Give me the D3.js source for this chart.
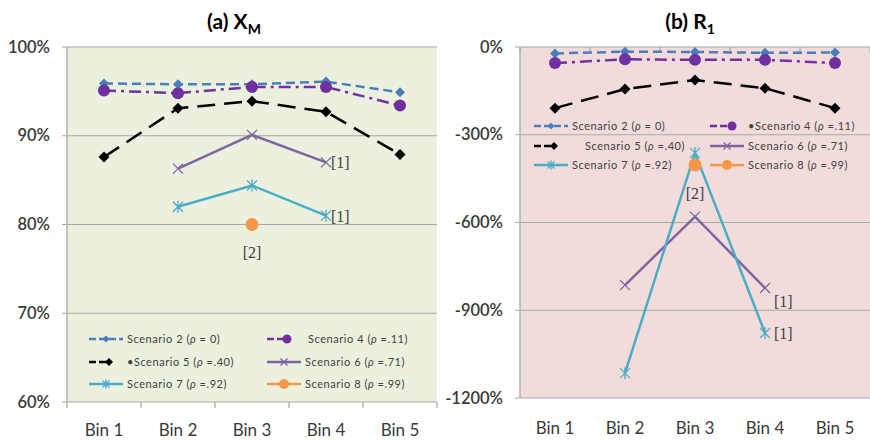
<!DOCTYPE html>
<html>
<head>
<meta charset="utf-8">
<script src="https://cdn.jsdelivr.net/npm/d3@7"></script>
<style>
  body { margin: 0; background: #fff; }
  text { font-family: Lato, "Open Sans", sans-serif; }
</style>
</head>
<body>
<div id="chart"></div>
<script>
var width = 870,
    height = 441;

// categories
var bins = ["Bin 1", "Bin 2", "Bin 3", "Bin 4", "Bin 5"];

// (a) X_M values, percent (null = no point)
var xmS2 = [95.9, 95.8, 95.8, 96.1, 94.9];
var xmS4 = [95.1, 94.8, 95.5, 95.5, 93.4];
var xmS5 = [87.6, 93.1, 93.9, 92.7, 87.9];
var xmS6 = [null, 86.3, 90.1, 87.0, null];
var xmS7 = [null, 82.0, 84.4, 81.0, null];
var xmS8 = [null, null, 80.0, null, null];
var xmTicks = [60, 70, 80, 90, 100];

// (b) R_1 values, percent
var r1S2 = [-22, -16, -17, -20, -19];
var r1S4 = [-55, -42, -44, -44, -55];
var r1S5 = [-209, -144, -113, -141, -209];
var r1S6 = [null, -814, -580, -824, null];
var r1S7 = [null, -1115, -362, -978, null];
var r1S8 = [null, null, -403, null, null];
var r1Ticks = [-1200, -900, -600, -300, 0];

// series styling
var styles = [
    {name: "Scenario 2 ", rho: " = 0)", color: "#4a7ebb", dash: "9,5", marker: "diamond", ms: 5},
    {name: "Scenario 4 ", rho: " =.11)", color: "#7030a0", dash: "12,5,3,5", marker: "circle", ms: 6},
    {name: "Scenario 5 ", rho: " =.40)", color: "#000000", dash: "18,9", marker: "diamond", ms: 5.5},
    {name: "Scenario 6 ", rho: " =.71)", color: "#8064a2", dash: null, marker: "x", ms: 5},
    {name: "Scenario 7 ", rho: " =.92)", color: "#4bacc6", dash: null, marker: "star", ms: 5},
    {name: "Scenario 8 ", rho: " =.99)", color: "#f79646", dash: null, marker: "circle", ms: 6.5}
];

var svg = d3.select("#chart").append("svg")
    .attr("width", width)
    .attr("height", height);

function drawMarker(g, type, x, y, s, color) {
    if (type == "diamond") {
        g.append("path")
            .attr("d", "M" + x + "," + (y - s) + "L" + (x + s) + "," + y + "L" + x + "," + (y + s) + "L" + (x - s) + "," + y + "Z")
            .attr("fill", color);
    } else if (type == "circle") {
        g.append("circle").attr("cx", x).attr("cy", y).attr("r", s).attr("fill", color);
    } else {
        var p = "M" + (x - s) + "," + (y - s) + "L" + (x + s) + "," + (y + s) +
                "M" + (x - s) + "," + (y + s) + "L" + (x + s) + "," + (y - s);
        if (type == "star") p += "M" + x + "," + (y - s - 1) + "L" + x + "," + (y + s + 1);
        g.append("path").attr("d", p).attr("fill", "none")
            .attr("stroke", color).attr("stroke-width", 1.3);
    }
}

function drawPanel(cfg) {
    var x = d3.scaleBand().domain(bins).range([cfg.left, cfg.right]);
    var y = d3.scaleLinear().domain(cfg.domain).range([cfg.bottom, cfg.top]);

    var g = svg.append("g");

    g.append("rect")
        .attr("x", cfg.left).attr("y", cfg.top)
        .attr("width", cfg.right - cfg.left).attr("height", cfg.bottom - cfg.top)
        .attr("fill", cfg.bg);

    // gridlines
    g.selectAll(".grid")
        .data(cfg.ticks)
        .enter().append("line")
        .attr("x1", cfg.left - 5).attr("x2", cfg.right)
        .attr("y1", function(d) { return y(d); })
        .attr("y2", function(d) { return y(d); })
        .style("stroke", "#a6a6a6")
        .style("stroke-width", 1.2);

    // y axis line
    g.append("line")
        .attr("x1", cfg.left).attr("x2", cfg.left)
        .attr("y1", cfg.top).attr("y2", cfg.bottom)
        .style("stroke", "#b0b0b0").style("stroke-width", 1.5);

    // y tick labels
    g.selectAll(".ylab")
        .data(cfg.ticks)
        .enter().append("text")
        .attr("x", cfg.left - 17)
        .attr("y", function(d) { return y(d) + 5.5; })
        .attr("text-anchor", "end")
        .attr("fill", "#3a3a3a")
        .style("font-size", "16.5px")
        .style("font-weight", "600")
        .text(function(d) { return d + "%"; });

    // category ticks along the category axis
    var boundaries = bins.map(function(b) { return x(b); }).concat([cfg.right]);
    g.selectAll(".xtick")
        .data(boundaries)
        .enter().append("line")
        .attr("x1", function(d) { return d; })
        .attr("x2", function(d) { return d; })
        .attr("y1", y(cfg.axisAt))
        .attr("y2", y(cfg.axisAt) + cfg.tickDir * 6)
        .style("stroke", "#a6a6a6").style("stroke-width", 1.2);

    g.selectAll(".xlab")
        .data(bins)
        .enter().append("text")
        .attr("x", function(d) { return x(d) + x.bandwidth() / 2; })
        .attr("y", cfg.labelY)
        .attr("text-anchor", "middle")
        .attr("fill", "#3a3a3a")
        .style("font-size", "17px")
        .text(function(d) { return d; });

    // title
    var t = g.append("text")
        .attr("x", cfg.titleX).attr("y", 29)
        .attr("text-anchor", "middle")
        .attr("fill", "#000")
        .style("font-size", "21px")
        .style("font-weight", "bold");
    t.append("tspan").text(cfg.title);
    t.append("tspan").attr("dy", 5).style("font-size", "14px").text(cfg.sub);

    // legend
    var leg = g.append("g");
    styles.forEach(function(s, i) {
        var col = i % 2, row = Math.floor(i / 2);
        var lx = cfg.legX[col], ly = cfg.legY[row];
        var len = cfg.legLen[i] || 34;
        leg.append("line")
            .attr("x1", lx).attr("x2", lx + len)
            .attr("y1", ly).attr("y2", ly)
            .style("stroke", s.color).style("stroke-width", 2.5)
            .style("stroke-dasharray", s.dash ? "7,3" : null);
        drawMarker(leg, s.marker, lx + (len > 30 ? 17 : len), ly, s.ms - 1.5, s.color);
        var lt = leg.append("text")
            .attr("x", lx + 38 + (cfg.legPad[i] || 0)).attr("y", ly + 4)
            .attr("fill", "#404040")
            .style("font-size", "11px")
            .style("letter-spacing", "0.55px");
        lt.append("tspan").text((cfg.legBullet[i] ? "\u2022" : "") + s.name + "(");
        lt.append("tspan").style("font-style", "italic").text("\u03c1");
        lt.append("tspan").text(s.rho);
    });

    // series
    var line = d3.line()
        .defined(function(d) { return d != null; })
        .x(function(d, i) { return x(bins[i]) + x.bandwidth() / 2; })
        .y(function(d) { return y(d); });

    cfg.series.forEach(function(vals, k) {
        var s = styles[k];
        g.append("path")
            .datum(vals)
            .attr("d", line)
            .attr("fill", "none")
            .style("stroke", s.color)
            .style("stroke-width", 2.5)
            .style("stroke-dasharray", s.dash);
        vals.forEach(function(v, i) {
            if (v == null) return;
            drawMarker(g, s.marker, x(bins[i]) + x.bandwidth() / 2, y(v), s.ms, s.color);
        });
    });

    // notes
    cfg.notes.forEach(function(n) {
        g.append("text")
            .attr("x", x(bins[n.bin]) + x.bandwidth() / 2 + n.dx)
            .attr("y", y(cfg.series[n.s][n.bin]) + n.dy)
            .attr("text-anchor", n.anchor)
            .attr("fill", "#404040")
            .style("font-family", "'Liberation Serif', serif")
            .style("font-size", "16px")
            .text(n.text);
    });
}

drawPanel({
    left: 67, right: 437, top: 47, bottom: 402,
    domain: [60, 100], ticks: xmTicks, axisAt: 60, tickDir: 1,
    labelY: 436, bg: "#ebf1de",
    title: "(a)  X", sub: "M", titleX: 234,
    series: [xmS2, xmS4, xmS5, xmS6, xmS7, xmS8],
    legX: [89, 267], legY: [339, 362, 384],
    legLen: [34, 20, 20, 34, 34, 34],
    legPad: [0, 3, 0, 0, 0, 0], legBullet: [false, false, true, false, false, false],
    notes: [
        {s: 3, bin: 3, dx: 5, dy: 6, anchor: "start", text: "[1]"},
        {s: 4, bin: 3, dx: 5, dy: 6, anchor: "start", text: "[1]"},
        {s: 5, bin: 2, dx: 0, dy: 33, anchor: "middle", text: "[2]"}
    ]
});

drawPanel({
    left: 520, right: 870, top: 47, bottom: 398,
    domain: [-1200, 0], ticks: r1Ticks, axisAt: 0, tickDir: 1,
    labelY: 434, bg: "#f2dcdb",
    title: "(b)  R", sub: "1", titleX: 690,
    series: [r1S2, r1S4, r1S5, r1S6, r1S7, r1S8],
    legX: [534, 710], legY: [126, 146, 165],
    legLen: [34, 22, 20, 34, 34, 34],
    legPad: [0, 0, 13, 0, 0, 0], legBullet: [false, true, false, false, false, false],
    notes: [
        {s: 3, bin: 3, dx: 9, dy: 19, anchor: "start", text: "[1]"},
        {s: 4, bin: 3, dx: 9, dy: 6, anchor: "start", text: "[1]"},
        {s: 5, bin: 2, dx: 0, dy: 34, anchor: "middle", text: "[2]"}
    ]
});
</script>
</body>
</html>
